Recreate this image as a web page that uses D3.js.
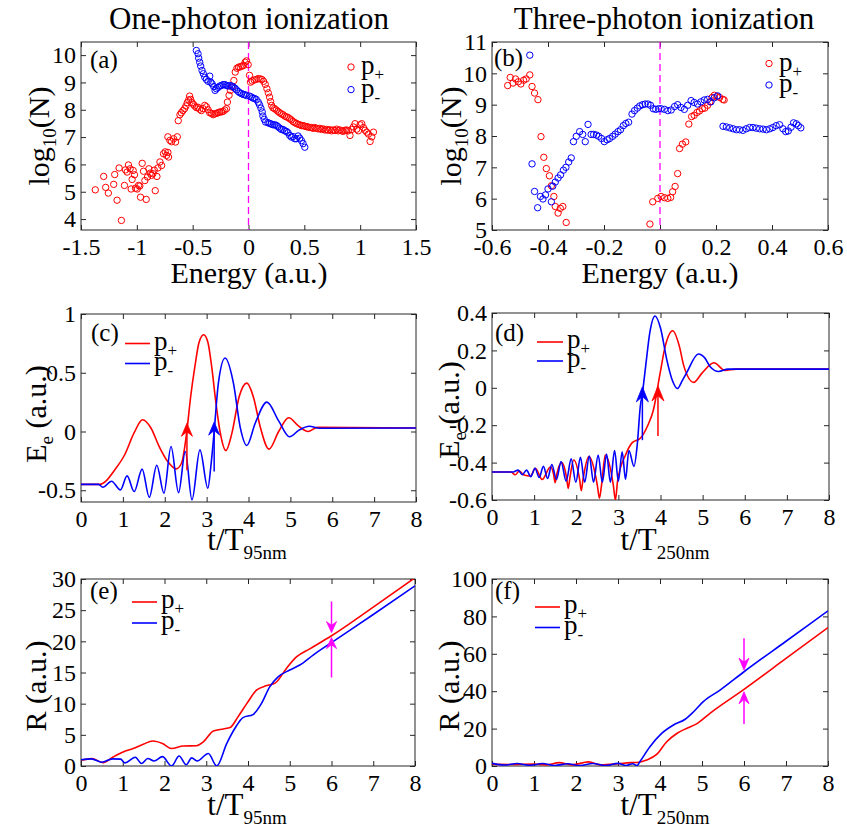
<!DOCTYPE html>
<html><head><meta charset="utf-8">
<script src="https://cdn.jsdelivr.net/npm/d3@7"></script>
<style>body{margin:0;background:#fff}svg{display:block}</style>
</head><body><svg id="c" width="847" height="830"></svg>
<script>
// ---------------- DATA ----------------
const titles = ["One-photon ionization", "Three-photon ionization"];
// (a) one-photon: energy (a.u.), log10(N)
const aPlus = [[-1.372,5.07],[-1.297,5.56],[-1.279,5.16],[-1.255,4.95],[-1.207,5.27],[-1.198,5.63],[-1.177,4.69],[-1.159,5.87],[-1.138,3.95],[-1.111,5.23],[-1.102,5.80],[-1.087,5.72],[-1.075,5.98],[-1.060,5.84],[-1.051,5.10],[-1.042,5.45],[-1.033,5.78],[-1.021,5.62],[-1.012,5.13],[-0.997,5.10],[-0.985,5.23],[-0.973,5.21],[-0.967,4.80],[-0.952,6.04],[-0.940,5.75],[-0.928,5.41],[-0.916,4.72],[-0.904,5.54],[-0.892,5.84],[-0.880,5.68],[-0.868,5.60],[-0.856,5.66],[-0.844,5.79],[-0.835,5.04],[-0.820,5.56],[-0.811,5.87],[-0.793,6.09],[-0.778,5.96],[-0.761,6.39],[-0.746,6.46],[-0.734,6.33],[-0.722,6.44],[-0.716,6.27],[-0.722,7.01],[-0.704,6.88],[-0.689,6.83],[-0.671,6.94],[-0.653,6.82],[-0.638,7.01],[-0.629,7.60],[-0.614,7.82],[-0.602,7.89],[-0.587,7.97],[-0.572,8.04],[-0.560,8.14],[-0.548,8.26],[-0.536,8.36],[-0.527,8.50],[-0.518,8.38],[-0.506,8.26],[-0.494,8.20],[-0.482,8.14],[-0.467,8.08],[-0.452,8.09],[-0.437,8.02],[-0.422,7.97],[-0.407,8.04],[-0.392,8.16],[-0.377,8.11],[-0.362,8.00],[-0.347,7.89],[-0.332,7.87],[-0.317,7.82],[-0.302,7.85],[-0.287,7.87],[-0.272,7.89],[-0.257,7.92],[-0.242,7.92],[-0.227,7.94],[-0.212,7.99],[-0.197,8.04],[-0.189,8.28],[-0.174,8.53],[-0.162,8.71],[-0.147,8.83],[-0.131,9.07],[-0.119,9.38],[-0.104,9.52],[-0.089,9.56],[-0.074,9.57],[-0.059,9.60],[-0.044,9.62],[-0.030,9.74],[-0.018,9.79],[-0.003,9.65],[0.009,9.26],[0.018,9.01],[0.033,9.05],[0.051,9.09],[0.069,9.11],[0.087,9.14],[0.105,9.13],[0.120,9.11],[0.135,9.04],[0.150,8.93],[0.165,8.77],[0.177,8.62],[0.189,8.46],[0.198,8.30],[0.207,8.16],[0.219,8.07],[0.234,8.04],[0.249,7.99],[0.264,7.94],[0.279,7.89],[0.294,7.85],[0.309,7.82],[0.324,7.77],[0.339,7.74],[0.354,7.72],[0.369,7.67],[0.384,7.63],[0.399,7.57],[0.414,7.53],[0.429,7.50],[0.444,7.47],[0.459,7.45],[0.474,7.42],[0.489,7.42],[0.504,7.40],[0.519,7.38],[0.534,7.37],[0.549,7.35],[0.564,7.35],[0.579,7.32],[0.594,7.35],[0.609,7.32],[0.624,7.30],[0.639,7.32],[0.654,7.28],[0.669,7.30],[0.684,7.26],[0.699,7.28],[0.714,7.25],[0.729,7.27],[0.744,7.23],[0.759,7.26],[0.774,7.24],[0.789,7.29],[0.804,7.23],[0.819,7.26],[0.834,7.23],[0.849,7.21],[0.864,7.25],[0.879,7.26],[0.894,7.23],[0.909,7.06],[0.924,7.28],[0.939,7.37],[0.954,7.49],[0.969,7.29],[0.984,7.23],[0.999,7.45],[1.014,7.49],[1.029,7.35],[1.044,7.25],[1.059,7.18],[1.074,7.11],[1.089,6.84],[1.104,7.01],[1.119,7.18]];
const aMinus = [[-0.467,10.17],[-0.452,10.05],[-0.446,9.89],[-0.437,9.74],[-0.428,9.60],[-0.416,9.44],[-0.404,9.32],[-0.392,9.19],[-0.377,9.11],[-0.362,9.04],[-0.347,9.23],[-0.338,9.01],[-0.326,8.95],[-0.311,8.85],[-0.299,8.71],[-0.287,8.77],[-0.272,8.82],[-0.257,8.87],[-0.242,8.89],[-0.227,8.92],[-0.212,8.92],[-0.197,8.89],[-0.182,8.87],[-0.167,8.89],[-0.152,8.87],[-0.137,8.84],[-0.122,8.79],[-0.107,8.73],[-0.092,8.67],[-0.077,8.62],[-0.062,8.59],[-0.047,8.56],[-0.032,8.55],[-0.017,8.52],[0.009,8.50],[0.024,8.47],[0.039,8.43],[0.054,8.41],[0.069,8.38],[0.087,8.28],[0.099,8.18],[0.111,8.06],[0.123,7.92],[0.129,7.77],[0.141,7.65],[0.153,7.55],[0.174,7.53],[0.189,7.50],[0.204,7.48],[0.219,7.45],[0.234,7.45],[0.249,7.43],[0.264,7.38],[0.279,7.33],[0.294,7.28],[0.309,7.28],[0.324,7.23],[0.339,7.21],[0.354,7.16],[0.369,7.06],[0.384,7.00],[0.399,7.02],[0.414,6.94],[0.429,6.94],[0.444,7.04],[0.459,6.96],[0.474,6.87],[0.489,6.76],[0.504,6.63]];
// (b) three-photon
const bPlus = [[-0.544,9.61],[-0.535,9.87],[-0.525,9.69],[-0.516,9.82],[-0.506,9.73],[-0.497,9.66],[-0.487,9.78],[-0.478,9.82],[-0.465,9.95],[-0.457,9.58],[-0.448,9.37],[-0.436,9.16],[-0.425,7.98],[-0.415,7.32],[-0.406,6.96],[-0.395,6.73],[-0.388,6.41],[-0.379,6.07],[-0.374,5.75],[-0.364,5.54],[-0.356,5.69],[-0.347,5.75],[-0.335,5.24],[-0.036,5.19],[-0.026,5.90],[-0.008,6.01],[0.004,6.07],[0.016,6.03],[0.028,6.01],[0.038,6.04],[0.045,6.22],[0.054,6.39],[0.063,6.80],[0.070,7.60],[0.080,7.74],[0.092,7.81],[0.103,8.38],[0.113,8.62],[0.122,8.66],[0.132,8.75],[0.141,8.80],[0.151,8.87],[0.160,8.89],[0.170,8.98],[0.178,9.09],[0.186,9.23],[0.194,9.30],[0.203,9.26],[0.213,9.23],[0.224,9.17],[0.229,9.15]];
const bMinus = [[-0.465,10.58],[-0.457,7.11],[-0.448,6.23],[-0.437,5.71],[-0.427,6.07],[-0.418,5.99],[-0.409,6.12],[-0.400,6.31],[-0.388,5.90],[-0.383,6.40],[-0.374,6.53],[-0.364,6.66],[-0.355,6.76],[-0.345,6.91],[-0.336,7.00],[-0.326,7.17],[-0.317,7.30],[-0.309,7.82],[-0.299,7.99],[-0.287,8.14],[-0.276,8.05],[-0.267,7.82],[-0.257,8.37],[-0.246,8.05],[-0.237,8.05],[-0.227,8.03],[-0.219,7.99],[-0.209,7.92],[-0.199,7.82],[-0.189,7.88],[-0.180,7.92],[-0.169,7.99],[-0.160,8.06],[-0.150,8.14],[-0.141,8.20],[-0.131,8.33],[-0.122,8.40],[-0.112,8.44],[-0.100,8.70],[-0.091,8.81],[-0.081,8.89],[-0.072,8.96],[-0.062,9.00],[-0.053,9.02],[-0.043,9.02],[-0.034,8.98],[-0.024,8.87],[-0.015,8.85],[-0.005,8.87],[0.004,8.87],[0.016,8.85],[0.028,8.81],[0.040,8.83],[0.052,8.94],[0.063,9.00],[0.075,8.91],[0.087,8.85],[0.099,8.98],[0.111,9.13],[0.122,9.07],[0.134,9.02],[0.146,9.09],[0.158,9.15],[0.170,9.17],[0.182,9.09],[0.194,9.22],[0.206,9.28],[0.225,8.31],[0.237,8.29],[0.249,8.26],[0.261,8.23],[0.273,8.20],[0.284,8.20],[0.296,8.18],[0.308,8.23],[0.320,8.27],[0.332,8.27],[0.344,8.25],[0.356,8.23],[0.368,8.22],[0.380,8.20],[0.392,8.23],[0.403,8.27],[0.415,8.33],[0.427,8.36],[0.439,8.23],[0.449,8.14],[0.458,8.16],[0.468,8.28],[0.477,8.42],[0.487,8.39],[0.494,8.33],[0.503,8.26]];
// (c) one-photon electron energy vs t/T
const cPlus = [[0,-0.45],[0.45,-0.45],[0.6,-0.42],[0.8,-0.33],[1.04,-0.2],[1.27,-0.01],[1.47,0.10],[1.67,0.03],[1.87,-0.13],[2.07,-0.255],[2.27,-0.318],[2.4,-0.27],[2.52,-0.02],[2.62,0.3],[2.72,0.554],[2.82,0.76],[2.93,0.824],[3.03,0.76],[3.12,0.554],[3.22,0.25],[3.32,0.0],[3.46,-0.162],[3.6,-0.02],[3.78,0.3],[3.96,0.412],[4.12,0.29],[4.28,0.04],[4.49,-0.15],[4.72,0.0],[4.96,0.117],[5.2,0.045],[5.42,0.0],[5.65,0.035],[8,0.03]];
const cMinus = [[0,-0.45],[0.3,-0.45],[0.42,-0.45],[0.52,-0.474],[0.73,-0.423],[0.94,-0.497],[1.10,-0.378],[1.27,-0.511],[1.46,-0.32],[1.63,-0.56],[1.81,-0.287],[1.98,-0.525],[2.15,-0.128],[2.33,-0.52],[2.49,-0.17],[2.65,-0.582],[2.84,-0.156],[3.03,-0.483],[3.1,-0.3],[3.18,0.0],[3.28,0.41],[3.44,0.626],[3.64,0.412],[3.80,0.04],[3.96,-0.119],[4.16,0.07],[4.44,0.25],[4.72,0.09],[4.98,-0.045],[5.2,0.01],[5.45,0.045],[5.7,0.028],[8,0.03]];
const cArrows = [[2.53,-0.33,0.07,"red"],[3.18,-0.34,0.08,"blue"]];
// (d) three-photon electron energy vs t/T
const dPlus = [[0,-0.45],[0.45,-0.45],[0.55,-0.465],[0.65,-0.445],[0.75,-0.465],[0.91,-0.472],[1.03,-0.431],[1.19,-0.49],[1.39,-0.422],[1.46,-0.46],[1.50,-0.507],[1.54,-0.46],[1.66,-0.40],[1.77,-0.48],[1.81,-0.538],[1.85,-0.48],[1.94,-0.386],[2.08,-0.49],[2.12,-0.55],[2.16,-0.49],[2.30,-0.368],[2.50,-0.52],[2.55,-0.59],[2.60,-0.52],[2.69,-0.359],[2.88,-0.52],[2.93,-0.6],[2.98,-0.5],[3.17,-0.359],[3.33,-0.293],[3.52,-0.27],[3.7,-0.2],[3.83,-0.12],[3.99,0.077],[4.11,0.22],[4.29,0.305],[4.45,0.22],[4.55,0.12],[4.79,0.029],[4.98,0.077],[5.27,0.134],[5.53,0.093],[5.8,0.10],[8,0.10]];
const dMinus = [[0,-0.45],[0.5,-0.45],[0.62,-0.44],[0.72,-0.465],[0.82,-0.44],[0.92,-0.475],[1.02,-0.43],[1.12,-0.48],[1.22,-0.42],[1.32,-0.485],[1.42,-0.41],[1.53,-0.49],[1.64,-0.395],[1.76,-0.5],[1.88,-0.38],[1.99,-0.505],[2.10,-0.372],[2.20,-0.505],[2.31,-0.365],[2.41,-0.505],[2.52,-0.359],[2.62,-0.505],[2.72,-0.354],[2.81,-0.505],[2.91,-0.335],[3.00,-0.5],[3.09,-0.342],[3.17,-0.49],[3.25,-0.335],[3.37,-0.42],[3.45,-0.3],[3.52,-0.1],[3.57,-0.03],[3.65,0.12],[3.75,0.3],[3.87,0.384],[4.0,0.32],[4.15,0.149],[4.28,0.04],[4.40,-0.004],[4.52,0.04],[4.62,0.08],[4.9,0.181],[5.05,0.16],[5.18,0.113],[5.38,0.087],[5.6,0.1],[8,0.1]];
const dArrows = [[3.57,-0.28,0.005,"blue"],[3.94,-0.258,0.01,"red"]];
// (e) one-photon R vs t/T
const ePlus = [[0,0.92],[0.26,1.18],[0.53,0.54],[0.77,1.45],[1.01,2.25],[1.25,2.8],[1.49,3.5],[1.72,4.0],[1.95,3.6],[2.17,2.8],[2.45,3.2],[2.77,3.25],[2.93,3.86],[3.17,5.63],[3.41,5.95],[3.57,6.16],[3.76,7.88],[3.97,10.0],[4.21,12.2],[4.45,12.9],[4.65,13.3],[4.92,15.66],[5.16,17.5],[5.48,18.8],[6.0,20.9],[7.0,25.5],[8,30.2]];
const eMinus = [[0,1.0],[0.25,1.15],[0.5,0.6],[0.75,1.15],[0.95,1.1],[1.05,0.5],[1.3,1.4],[1.45,0.4],[1.6,1.2],[1.75,0.8],[1.95,1.5],[2.17,0.0],[2.35,1.6],[2.52,0.2],[2.65,1.3],[2.78,0.8],[3.05,2.0],[3.25,0.0],[3.49,3.6],[3.68,5.97],[3.88,7.77],[4.12,8.25],[4.32,10.0],[4.52,12.7],[4.72,14.3],[5.0,15.4],[5.24,16.2],[5.56,17.8],[6.0,19.8],[7,24.3],[8,28.9]];
const eArrows = [[6,26.4,21.4,"#ff00ff"],[6,14.2,20.6,"#ff00ff"]];
// (f) three-photon R vs t/T
const fPlus = [[0,1.0],[0.5,0.8],[1.0,1.0],[1.3,0.6],[1.6,1.8],[1.9,0.6],[2.3,2.2],[2.6,0.6],[3.0,1.2],[3.3,1.8],[3.5,2.0],[3.68,3.2],[3.92,6.2],[4.16,13],[4.4,17.4],[4.63,20.1],[4.87,22.5],[5.19,28.2],[6.0,41],[7,57.5],[8,74]];
const fMinus = [[0,1.4],[0.3,0.5],[0.6,1.3],[0.9,0.4],[1.2,1.3],[1.5,0.3],[1.8,1.2],[2.1,0.2],[2.4,1.3],[2.7,0.2],[3.0,1.4],[3.2,0.3],[3.35,1.2],[3.45,0.2],[3.52,2.3],[3.76,10.3],[4.04,17.4],[4.32,21.9],[4.6,25],[4.8,29],[5.03,34.4],[5.43,40.6],[6.0,50.4],[7,66.7],[8,83]];
const fArrows = [[6,68.3,51.3,"#ff00ff"],[6,22.4,39.7,"#ff00ff"]];
// ticks
const aXTicks = [-1.5,-1,-0.5,0,0.5,1,1.5], aYTicks = [4,5,6,7,8,9,10];
const bXTicks = [-0.6,-0.4,-0.2,0,0.2,0.4,0.6], bYTicks = [5,6,7,8,9,10,11];
const tTicks = [0,1,2,3,4,5,6,7,8];
const cYTicks = [-0.5,0,0.5,1], dYTicks = [-0.6,-0.4,-0.2,0,0.2,0.4];
const eYTicks = [0,5,10,15,20,25,30], fYTicks = [0,20,40,60,80,100];

// ---------------- DRAWING ----------------
const FONT = '"Liberation Serif","Times New Roman",serif';
const TICKFS = 24, LABFS = 30, LEGFS = 27;
const svg = d3.select("#c");
const RED = "#ff0000", BLUE = "#0000ff", MAG = "#ff00ff", AX = "#262626";
const fmt = d => String(d);
let pid = 0;

function panel(l, r, t, b, xd, yd, xt, yt) {
  const id = "cl" + (pid++);
  const x = d3.scaleLinear().domain(xd).range([l, r]);
  const y = d3.scaleLinear().domain(yd).range([b, t]);
  svg.append("clipPath").attr("id", id).append("rect")
    .attr("x", l).attr("y", t).attr("width", r - l).attr("height", b - t);
  const g = svg.append("g");
  const style = sel => {
    sel.attr("font-family", FONT).attr("font-size", TICKFS);
    sel.select(".domain").remove();
    sel.selectAll("line").attr("stroke", AX);
    sel.selectAll("text").attr("fill", "#000").attr("font-family", FONT);
  };
  g.append("g").attr("transform", `translate(0,${b})`)
    .call(d3.axisBottom(x).tickValues(xt).tickSize(-5).tickSizeOuter(0).tickPadding(8).tickFormat(fmt)).call(style);
  g.append("g").attr("transform", `translate(0,${t})`)
    .call(d3.axisTop(x).tickValues(xt).tickSize(-5).tickSizeOuter(0).tickFormat("")).call(style);
  g.append("g").attr("transform", `translate(${l},0)`)
    .call(d3.axisLeft(y).tickValues(yt).tickSize(-5).tickSizeOuter(0).tickPadding(5).tickFormat(fmt)).call(style);
  g.append("g").attr("transform", `translate(${r},0)`)
    .call(d3.axisRight(y).tickValues(yt).tickSize(-5).tickSizeOuter(0).tickFormat("")).call(style);
  g.append("rect").attr("x", l).attr("y", t).attr("width", r - l).attr("height", b - t)
    .attr("fill", "none").attr("stroke", AX).attr("stroke-width", 1);
  const plot = svg.append("g").attr("clip-path", `url(#${id})`);
  return {x, y, plot, l, r, t, b};
}

function scatter(p, data, col) {
  p.plot.append("g").selectAll("circle").data(data).join("circle")
    .attr("cx", d => p.x(d[0])).attr("cy", d => p.y(d[1])).attr("r", 3.2)
    .attr("fill", "none").attr("stroke", col).attr("stroke-width", 1);
}
function curve(p, data, col) {
  const line = d3.line().x(d => p.x(d[0])).y(d => p.y(d[1])).curve(d3.curveMonotoneX);
  p.plot.append("path").datum(data).attr("d", line).attr("fill", "none")
    .attr("stroke", col).attr("stroke-width", 1.6);
}
function vdash(p, xv) {
  p.plot.append("line").attr("x1", p.x(xv)).attr("x2", p.x(xv)).attr("y1", p.t).attr("y2", p.b)
    .attr("stroke", MAG).attr("stroke-width", 1.3).attr("stroke-dasharray", "7,4");
}
function arrows(p, list, hl, hw) {
  list.forEach(a => {
    const col = a[3] === "red" ? RED : a[3] === "blue" ? BLUE : a[3];
    const x1 = p.x(a[0]), y1 = p.y(a[1]), x2 = p.x(a[0]), y2 = p.y(a[2]);
    const len = Math.hypot(x2 - x1, y2 - y1), ux = (x2 - x1) / len, uy = (y2 - y1) / len;
    const nx = -uy, ny = ux;
    const bx = x2 - ux * hl, by = y2 - uy * hl;
    const mx = x2 - ux * hl * 0.65, my = y2 - uy * hl * 0.65;
    svg.append("line").attr("x1", x1).attr("y1", y1).attr("x2", mx).attr("y2", my)
      .attr("stroke", col).attr("stroke-width", 1.5);
    svg.append("path").attr("d", `M${x2},${y2}L${bx + nx * hw / 2},${by + ny * hw / 2}L${mx},${my}L${bx - nx * hw / 2},${by - ny * hw / 2}Z`)
      .attr("fill", col).attr("stroke", col).attr("stroke-width", 0.8);
  });
}
function txt(x, y, s, size, anchor) {
  return svg.append("text").attr("x", x).attr("y", y).attr("font-family", FONT)
    .attr("font-size", size).attr("text-anchor", anchor || "start").attr("fill", "#000").text(s);
}
function pLabel(x, y, sub) {
  const t = txt(x, y, "p", LEGFS);
  t.append("tspan").attr("font-size", 17).attr("dy", 6).text(sub);
}
function legendScatter(x0, y0, dy) {
  [[RED, "+"], [BLUE, "-"]].forEach((e, i) => {
    svg.append("circle").attr("cx", x0).attr("cy", y0 + i * dy).attr("r", 3.2)
      .attr("fill", "none").attr("stroke", e[0]).attr("stroke-width", 1);
    pLabel(x0 + 10, y0 + i * dy + 7, e[1]);
  });
}
function legendLine(x0, x1, y0, dy) {
  [[RED, "+"], [BLUE, "-"]].forEach((e, i) => {
    svg.append("line").attr("x1", x0).attr("x2", x1).attr("y1", y0 + i * dy).attr("y2", y0 + i * dy)
      .attr("stroke", e[0]).attr("stroke-width", 1.6);
    pLabel(x1 + 4, y0 + i * dy + 6, e[1]);
  });
}
function yLabel(cx, cy, main, sub, rest) {
  const t = svg.append("text").attr("transform", `translate(${cx},${cy}) rotate(-90)`)
    .attr("text-anchor", "middle").attr("font-family", FONT).attr("font-size", LABFS).attr("fill", "#000");
  t.append("tspan").text(main);
  if (sub) {
    t.append("tspan").attr("font-size", 19).attr("dy", 7).text(sub);
    t.append("tspan").attr("dy", -7).text(rest);
  }
  return t;
}
function tLabel(cx, y, sub) {
  const t = txt(cx, y, "t/T", LABFS + 1, "middle");
  t.append("tspan").attr("font-size", 19).attr("dy", 9).text(sub);
}

// titles
txt(249, 29, titles[0], 31, "middle");
txt(664, 29, titles[1], 31, "middle");

// (a)
const pa = panel(81, 416, 42, 230, [-1.5, 1.5], [3.6, 10.48], aXTicks, aYTicks);
vdash(pa, 0);
scatter(pa, aPlus, RED);
scatter(pa, aMinus, BLUE);
legendScatter(351, 67, 22.6);
txt(90, 68, "(a)", 25);
txt(249, 283, "Energy (a.u.)", LABFS, "middle");
yLabel(49, 136, "log", "10", "(N)");

// (b)
const pb = panel(492, 828, 42, 230, [-0.6, 0.6], [5, 11], bXTicks, bYTicks);
vdash(pb, 0);
scatter(pb, bPlus, RED);
scatter(pb, bMinus, BLUE);
legendScatter(769, 63.5, 21.5);
txt(494, 66, "(b)", 25);
txt(660, 283, "Energy (a.u.)", LABFS, "middle");
yLabel(461, 136, "log", "10", "(N)");

// (c)
const pc = panel(81, 416, 314, 502, [0, 8], [-0.6, 1], tTicks, cYTicks);
curve(pc, cPlus, RED);
curve(pc, cMinus, BLUE);
arrows(pc, cArrows, 13, 11);
legendLine(125, 150, 343.5, 20);
txt(91, 341, "(c)", 25);
tLabel(247, 550, "95nm");
yLabel(46, 414, "E", "e", " (a.u.)");

// (d)
const pd = panel(492, 829, 313, 500, [0, 8], [-0.6, 0.4], tTicks, dYTicks);
curve(pd, dPlus, RED);
curve(pd, dMinus, BLUE);
arrows(pd, dArrows, 15, 12);
legendLine(537, 563, 342, 19);
txt(495, 341, "(d)", 25);
tLabel(665, 550, "250nm");
yLabel(459, 410, "E", "e", " (a.u.)");

// (e)
const pe = panel(81, 415, 579, 766, [0, 8], [0, 30], tTicks, eYTicks);
curve(pe, ePlus, RED);
curve(pe, eMinus, BLUE);
arrows(pe, eArrows, 11, 10);
legendLine(132, 157, 602, 21);
txt(90, 599, "(e)", 25);
tLabel(247, 815, "95nm");
yLabel(46, 686, "R (a.u.)");

// (f)
const pf = panel(492, 828, 579, 766, [0, 8], [0, 100], tTicks, fYTicks);
curve(pf, fPlus, RED);
curve(pf, fMinus, BLUE);
arrows(pf, fArrows, 12, 10);
legendLine(535, 560, 607, 20.5);
txt(495, 599, "(f)", 25);
tLabel(665, 815, "250nm");
yLabel(459, 686, "R (a.u.)");
</script>
</body></html>
